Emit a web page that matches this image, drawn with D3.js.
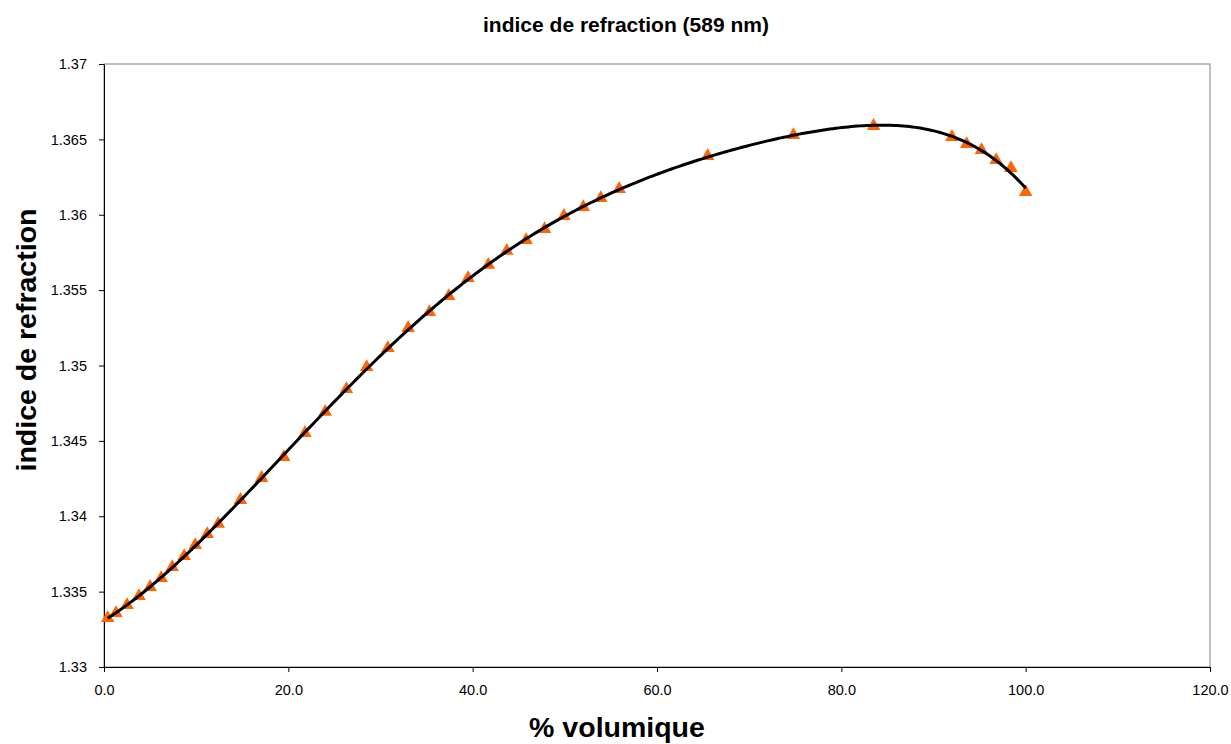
<!DOCTYPE html>
<html><head><meta charset="utf-8">
<script src="https://cdn.jsdelivr.net/npm/d3@7"></script>
<style>body{margin:0;background:#fff}svg{display:block;font-family:"Liberation Sans",Arial,sans-serif}</style>
</head><body><svg id="c" width="1231" height="744"></svg>
<script>
const volume = [0.4,1.3,2.5,3.8,5.0,6.2,7.4,8.7,9.9,11.2,12.4,14.8,17.1,19.5,21.8,24.0,26.3,28.5,30.8,33.0,35.3,37.4,39.5,41.7,43.7,45.8,47.8,49.9,52.0,53.9,55.9,65.5,74.8,83.5,92.0,93.6,95.2,96.8,98.4,100.0];
const indice = [1.33325,1.33358,1.33411,1.33471,1.33531,1.33590,1.33663,1.33736,1.33809,1.33882,1.33949,1.34108,1.34254,1.34393,1.34552,1.34692,1.34844,1.34990,1.35116,1.35249,1.35355,1.35461,1.35580,1.35667,1.35760,1.35832,1.35905,1.35992,1.36051,1.36111,1.36171,1.36390,1.36529,1.36589,1.36516,1.36469,1.36429,1.36363,1.36310,1.36151];
const xTicks = [0,20,40,60,80,100,120];
const yTicks = [1.33,1.335,1.34,1.345,1.35,1.355,1.36,1.365,1.37];
const title = "indice de refraction (589 nm)";
const xTitle = "% volumique";
const yTitle = "indice de refraction";

const svg = d3.select("#c");
const L=104,R=1210,T=64,B=667;
const x = d3.scaleLinear().domain([0,120]).range([L,R]);
const y = d3.scaleLinear().domain([1.33,1.37]).range([B,T]);

svg.append("rect").attr("x",L).attr("y",T).attr("width",R-L).attr("height",B-T).attr("fill","none").attr("stroke","#808080").attr("stroke-width",1);

const xa = svg.append("g").attr("transform",`translate(0,${B})`).call(d3.axisBottom(x).tickValues(xTicks).tickFormat(d3.format(".1f")).tickSizeOuter(0).tickSizeInner(5).tickPadding(13));
const ya = svg.append("g").attr("transform",`translate(${L},0)`).call(d3.axisLeft(y).tickValues(yTicks).tickFormat(d=>String(+d.toFixed(3))).tickSizeOuter(0).tickSizeInner(5).tickPadding(12));
[xa,ya].forEach(a=>{a.selectAll("text").attr("font-size",14.5).attr("fill","#000").attr("font-family","Liberation Sans, Arial, sans-serif");a.selectAll("path,line").attr("stroke","#000");});

// polynomial trendline (least squares) computed from the data
function polyfit(xs,ys,deg){
  const n=deg+1, s=100;
  const A=Array.from({length:n},()=>new Array(n+1).fill(0));
  xs.forEach((xv,k)=>{const t=xv/s;for(let i=0;i<n;i++){for(let j=0;j<n;j++)A[i][j]+=Math.pow(t,i+j);A[i][n]+=ys[k]*Math.pow(t,i);}});
  for(let i=0;i<n;i++){let p=i;for(let r=i+1;r<n;r++)if(Math.abs(A[r][i])>Math.abs(A[p][i]))p=r;[A[i],A[p]]=[A[p],A[i]];
    for(let r=0;r<n;r++){if(r===i)continue;const f=A[r][i]/A[i][i];for(let c=i;c<=n;c++)A[r][c]-=f*A[i][c];}}
  const co=A.map((row,i)=>row[n]/row[i]);
  return xv=>co.reduce((acc,c,i)=>acc+c*Math.pow(xv/s,i),0);
}
const f = polyfit(volume,indice,6);
const xmin=d3.min(volume),xmax=d3.max(volume);
const curve=d3.range(0,301).map(i=>{const xv=xmin+(xmax-xmin)*i/300;return [xv,f(xv)];});

svg.append("g").selectAll("path").data(volume).join("path")
  .attr("d",d3.symbol(d3.symbolTriangle,80))
  .attr("transform",(d,i)=>`translate(${x(d)},${y(indice[i])})`)
  .attr("fill","#FF6600");

svg.append("path").datum(curve).attr("fill","none").attr("stroke","#000").attr("stroke-width",3)
  .attr("d",d3.line().x(d=>x(d[0])).y(d=>y(d[1])));

svg.append("text").attr("x",626).attr("y",32).attr("text-anchor","middle").attr("font-size",21).attr("font-weight","bold").text(title);
svg.append("text").attr("x",617).attr("y",737).attr("text-anchor","middle").attr("font-size",28.5).attr("font-weight","bold").text(xTitle);
svg.append("text").attr("transform","translate(36,340) rotate(-90)").attr("text-anchor","middle").attr("font-size",28.5).attr("font-weight","bold").text(yTitle);
</script></body></html>
